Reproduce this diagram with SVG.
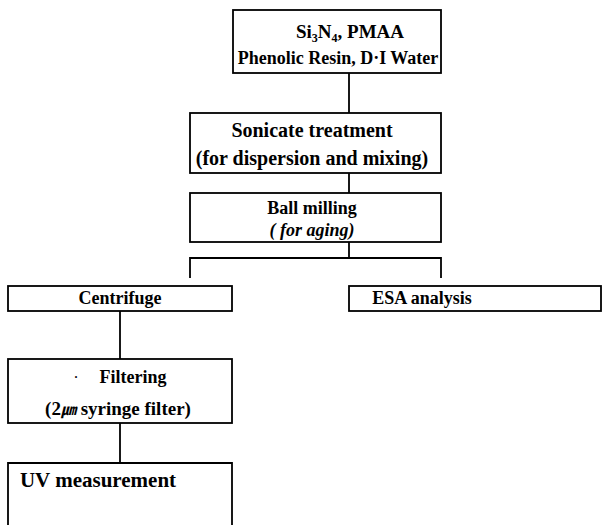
<svg xmlns="http://www.w3.org/2000/svg" width="609" height="525" viewBox="0 0 609 525">
<style>
.box{fill:#fff;stroke:#000;stroke-width:1.8}
.ln{stroke:#000;stroke-width:1.8;fill:none}
text{font-family:"Liberation Serif","Times New Roman","DejaVu Serif",serif;font-weight:bold;fill:#000;text-anchor:middle}
.it{font-style:italic}
.f18{font-size:18px}
.f19{font-size:19px}
.f20{font-size:20px}
.f21{font-size:21px}
.sub{font-size:12px}
</style>
<rect width="609" height="525" fill="#fff"/>
<g id="connectors">
<line class="ln" x1="349" y1="73" x2="349" y2="113"/>
<line class="ln" x1="349" y1="173" x2="349" y2="193"/>
<line class="ln" x1="349" y1="242" x2="349" y2="258"/>
<polyline class="ln" points="190,278 190,258 441,258 441,278"/>
<line class="ln" x1="120" y1="311" x2="120" y2="359"/>
<line class="ln" x1="120" y1="423" x2="120" y2="463"/>
</g>
<g id="n1">
<rect class="box" x="233" y="10" width="208" height="63"/>
<text class="f19" x="350" y="38">Si<tspan class="sub" dy="4">3</tspan><tspan dy="-4">N</tspan><tspan class="sub" dy="4">4</tspan><tspan dy="-4">, PMAA</tspan></text>
<text class="f18" x="338" y="64">Phenolic Resin, D·I Water</text>
</g>
<g id="n2">
<rect class="box" x="190" y="113" width="251" height="60"/>
<text class="f20" x="312" y="137">Sonicate treatment</text>
<text class="f20" x="312" y="165">(for dispersion and mixing)</text>
</g>
<g id="n3">
<rect class="box" x="190" y="193" width="251" height="49"/>
<text class="f18" x="312" y="214">Ball milling</text>
<text class="f18 it" x="312" y="236">( for aging)</text>
</g>
<g id="n4">
<rect class="box" x="8" y="286" width="224" height="25"/>
<text class="f18" x="120" y="304">Centrifuge</text>
</g>
<g id="n5">
<rect class="box" x="349" y="286" width="252" height="25"/>
<text class="f18" x="422" y="304">ESA analysis</text>
</g>
<g id="n6">
<rect class="box" x="8" y="359" width="224" height="64"/>
<text class="sub" x="76" y="381">·</text>
<text class="f18" x="133" y="383">Filtering</text>
<text class="f19" x="118" y="415">(2<tspan class="it" style="font-family:'Noto Sans CJK KR',sans-serif;font-size:15px">㎛</tspan> syringe filter)</text>
</g>
<g id="n7">
<path class="ln" d="M8,526 V463 H232 V526"/>
<text class="f21" x="98" y="487">UV measurement</text>
</g>
</svg>
